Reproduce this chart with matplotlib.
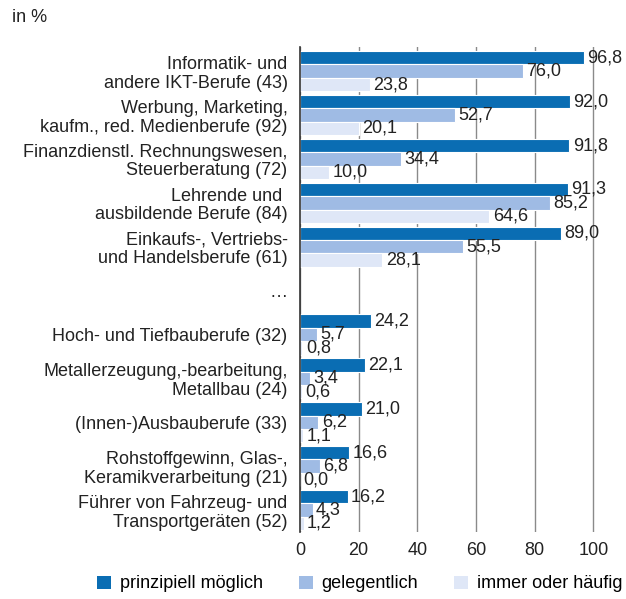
import numpy as np
import matplotlib
matplotlib.use('Agg')
import matplotlib.pyplot as plt
from matplotlib.patches import Patch

plt.rcParams['font.family'] = ['Liberation Sans', 'DejaVu Sans']

categories = [
    "Informatik- und\nandere IKT-Berufe (43)",
    "Werbung, Marketing,\nkaufm., red. Medienberufe (92)",
    "Finanzdienstl. Rechnungswesen,\nSteuerberatung (72)",
    "Lehrende und \nausbildende Berufe (84)",
    "Einkaufs-, Vertriebs-\nund Handelsberufe (61)",
    "…",
    "Hoch- und Tiefbauberufe (32)",
    "Metallerzeugung,-bearbeitung,\nMetallbau (24)",
    "(Innen-)Ausbauberufe (33)",
    "Rohstoffgewinn, Glas-,\nKeramikverarbeitung (21)",
    "Führer von Fahrzeug- und\nTransportgeräten (52)",
]
prinzipiell = [96.8, 92.0, 91.8, 91.3, 89.0, None, 24.2, 22.1, 21.0, 16.6, 16.2]
gelegentlich = [76.0, 52.7, 34.4, 85.2, 55.5, None, 5.7, 3.4, 6.2, 6.8, 4.3]
immer = [23.8, 20.1, 10.0, 64.6, 28.1, None, 0.8, 0.6, 1.1, 0.0, 1.2]
series_names = ["prinzipiell möglich", "gelegentlich", "immer oder häufig"]
colors = ["#0a6db3", "#9fbbe4", "#dfe7f7"]

fs = 13
fig = plt.figure(figsize=(6.26, 5.99), dpi=100)
ax = fig.add_axes([300 / 626, 1 - 532 / 599, 305 / 626, (532 - 47) / 599])

y = np.arange(len(categories))
h = 0.305
for i, (vals, col) in enumerate(zip([prinzipiell, gelegentlich, immer], colors)):
    off = (i - 1) * h
    for yi, v in zip(y, vals):
        if v is None:
            continue
        ax.barh(yi + off, v, height=h, color=col, edgecolor='white', linewidth=0.8, zorder=3)
        ax.annotate(f"{v:.1f}".replace('.', ','), (v, yi + off), xytext=(2.5, 0),
                    textcoords='offset points', ha='left', va='center', fontsize=fs,
                    color='#222222', zorder=4)

ax.set_xlim(0, 104)
ax.set_ylim(10.5, -0.55)
ax.set_xticks([0, 20, 40, 60, 80, 100])
ax.set_yticks(y)
ax.set_yticklabels(categories, fontsize=fs, color='#222222', linespacing=1.12)
ax.tick_params(axis='y', length=0, pad=9)
ax.tick_params(axis='x', length=0, pad=7, labelsize=fs, labelcolor='#222222')
ax.grid(axis='x', color='#8a8a8a', linewidth=1, zorder=0)
for s in ['top', 'right', 'bottom']:
    ax.spines[s].set_visible(False)
ax.spines['left'].set_color('#333333')
ax.spines['left'].set_linewidth(1.2)
ax.spines['left'].set_zorder(5)

fig.text(12 / 626, 1 - 18 / 599, "in %", fontsize=fs, color='#222222', va='center')

handles = [Patch(facecolor=c, edgecolor='none') for c in colors]
fig.legend(handles, series_names, loc='center', bbox_to_anchor=(0.575, 1 - 584 / 599),
           ncol=3, frameon=False, fontsize=fs, handlelength=0.75, handleheight=0.75,
           handletextpad=0.5, columnspacing=2.0)

fig.savefig('out.png', dpi=100)
